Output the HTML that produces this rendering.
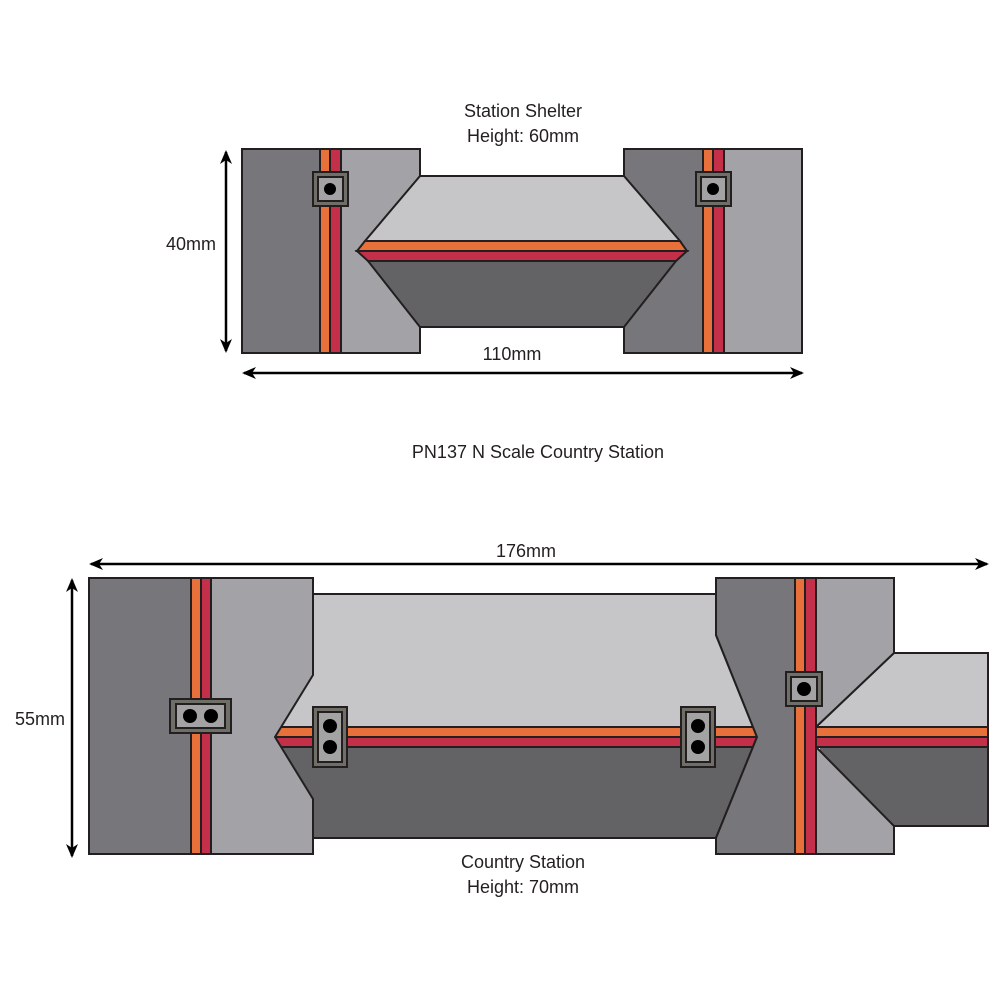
<!DOCTYPE html>
<html><head><style>html,body{margin:0;padding:0;background:#fff}svg{display:block}</style></head>
<body>
<svg width="1000" height="1000" viewBox="0 0 1000 1000" xmlns="http://www.w3.org/2000/svg" font-family="Liberation Sans, sans-serif" font-size="18" fill="#231f20">
<defs>
<marker id="ah" markerWidth="14" markerHeight="12" refX="12" refY="6" orient="auto-start-reverse" markerUnits="userSpaceOnUse">
<path d="M0,0 L14,6 L0,12 L4,6 Z" fill="#000"/>
</marker>
</defs>
<g stroke="#231f20" stroke-width="2" stroke-linejoin="miter">
<!-- TOP SHELTER -->
<rect x="242" y="149" width="178" height="204" fill="#a3a3a7"/>
<rect x="242" y="149" width="78" height="204" fill="#77777b"/>
<rect x="320" y="149" width="10" height="204" fill="#e8703a"/>
<rect x="330" y="149" width="11" height="204" fill="#c4304a"/>
<rect x="624" y="149" width="178" height="204" fill="#a3a3a7"/>
<rect x="624" y="149" width="79" height="204" fill="#77777b"/>
<rect x="703" y="149" width="10" height="204" fill="#e8703a"/>
<rect x="713" y="149" width="11" height="204" fill="#c4304a"/>
<polygon points="420,176 624,176 680,241 365,241" fill="#c6c6c8"/>
<polygon points="368,261 676,261 624,327 420,327" fill="#636366"/>
<polygon points="365,241 680,241 687,251 357,251" fill="#e8703a"/>
<polygon points="357,251 687,251 676,261 368,261" fill="#c4304a"/>
<rect x="313" y="172" width="35" height="34" fill="#6f6f68"/>
<rect x="318" y="177" width="25" height="24" fill="#a3a3a3"/>
<rect x="696" y="172" width="35" height="34" fill="#6f6f68"/>
<rect x="701" y="177" width="25" height="24" fill="#a3a3a3"/>
<!-- BOTTOM roof (extended under notches) -->
<rect x="275" y="594" width="482" height="133" fill="#c6c6c8" stroke="none"/>
<rect x="275" y="747" width="482" height="91" fill="#636366" stroke="none"/>
<line x1="313" y1="594" x2="716" y2="594"/>
<line x1="313" y1="838" x2="716" y2="838"/>
<rect x="275" y="727" width="482" height="10" fill="#e8703a"/>
<rect x="275" y="737" width="482" height="10" fill="#c4304a"/>
<polygon points="89,578 313,578 313,675 275,737 313,799 313,854 89,854" fill="#a3a3a7"/>
<rect x="89" y="578" width="102" height="276" fill="#77777b"/>
<rect x="191" y="578" width="10" height="276" fill="#e8703a"/>
<rect x="201" y="578" width="10" height="276" fill="#c4304a"/>
<!-- annex -->
<rect x="820" y="653" width="168" height="74" fill="#c6c6c8" stroke="none"/>
<rect x="820" y="747" width="168" height="79" fill="#636366" stroke="none"/>
<polyline points="894,653 988,653 988,826 894,826" fill="none"/>
<polygon points="716,578 894,578 894,653 816,727 816,747 894,826 894,854 716,854 716,838 757,737 716,635" fill="#a3a3a7"/>
<polygon points="716,578 795,578 795,854 716,854 716,838 757,737 716,635" fill="#77777b"/>
<polygon points="816,727 894,653 894,578 816,578" fill="#a3a3a7"/>
<rect x="805" y="727" width="183" height="10" fill="#e8703a"/>
<rect x="805" y="737" width="183" height="10" fill="#c4304a"/>
<rect x="795" y="578" width="10" height="276" fill="#e8703a"/>
<rect x="805" y="578" width="11" height="276" fill="#c4304a"/>
<!-- connectors -->
<rect x="170" y="699" width="61" height="34" fill="#6f6f68"/>
<rect x="176" y="704" width="49" height="24" fill="#a3a3a3"/>
<rect x="313" y="707" width="34" height="60" fill="#6f6f68"/>
<rect x="318" y="712" width="24" height="50" fill="#a3a3a3"/>
<rect x="681" y="707" width="34" height="60" fill="#6f6f68"/>
<rect x="686" y="712" width="24" height="50" fill="#a3a3a3"/>
<rect x="786" y="672" width="36" height="34" fill="#6f6f68"/>
<rect x="791" y="677" width="26" height="24" fill="#a3a3a3"/>
</g>
<g fill="#000">
<circle cx="330" cy="189" r="6"/>
<circle cx="713" cy="189" r="6"/>
<circle cx="190" cy="716" r="7"/><circle cx="211" cy="716" r="7"/>
<circle cx="330" cy="726" r="7"/><circle cx="330" cy="747" r="7"/>
<circle cx="698" cy="726" r="7"/><circle cx="698" cy="747" r="7"/>
<circle cx="804" cy="689" r="7"/>
</g>
<g stroke="#000" stroke-width="2.5" fill="none">
<line x1="226" y1="152" x2="226" y2="351" marker-start="url(#ah)" marker-end="url(#ah)"/>
<line x1="244" y1="373" x2="802" y2="373" marker-start="url(#ah)" marker-end="url(#ah)"/>
<line x1="91" y1="564" x2="987" y2="564" marker-start="url(#ah)" marker-end="url(#ah)"/>
<line x1="72" y1="580" x2="72" y2="856" marker-start="url(#ah)" marker-end="url(#ah)"/>
</g>
<g text-anchor="middle">
<text x="523" y="117">Station Shelter</text>
<text x="523" y="142">Height: 60mm</text>
<text x="191" y="250">40mm</text>
<text x="512" y="360">110mm</text>
<text x="538" y="458">PN137 N Scale Country Station</text>
<text x="526" y="557">176mm</text>
<text x="40" y="725">55mm</text>
<text x="523" y="868">Country Station</text>
<text x="523" y="893">Height: 70mm</text>
</g>
</svg>
</body></html>
